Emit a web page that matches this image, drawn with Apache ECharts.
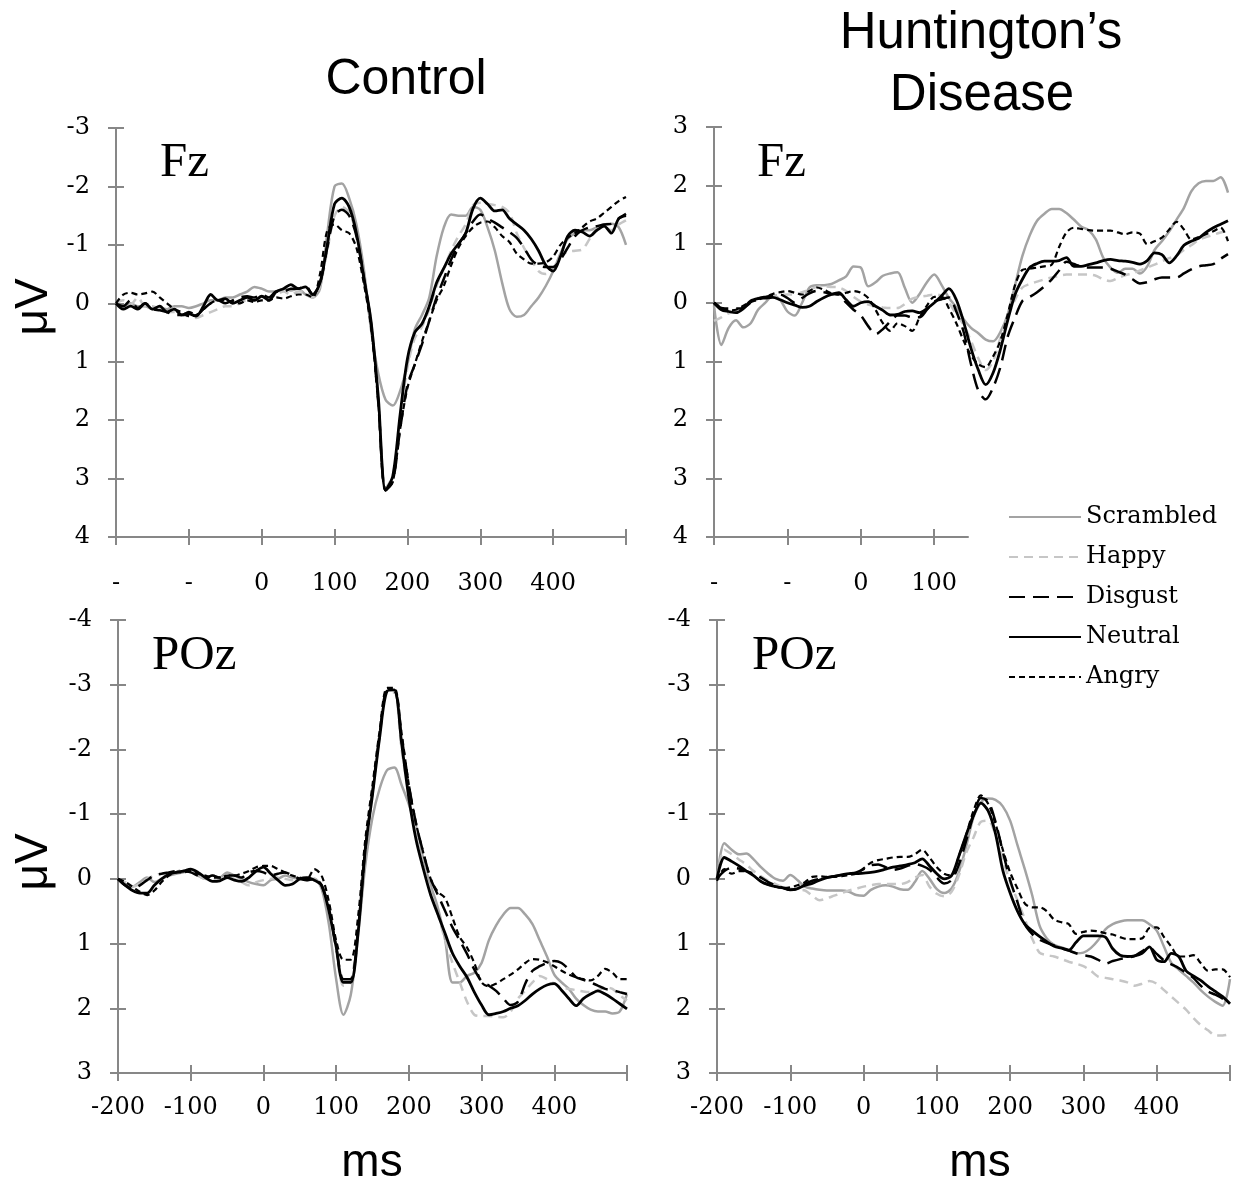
<!DOCTYPE html>
<html>
<head>
<meta charset="utf-8">
<script src="https://cdn.jsdelivr.net/npm/echarts@6/dist/echarts.min.js"></script>
<style>
html,body{margin:0;padding:0;background:#ffffff;}
#c{width:1238px;height:1182px;}
</style>
</head>
<body>
<div id="c"></div>
<script>
// ---------- DATA ----------
const timeMs = [
  -200,-190,-180,-170,-160,-150,-140,-130,-120,-110,
  -100,-90,-80,-70,-60,-50,-40,-30,-20,-10,
  0,10,20,30,40,50,60,70,80,90,
  100,110,120,130,140,150,160,170,180,190,
  200,210,220,230,240,250,260,270,280,290,
  300,310,320,330,340,350,360,370,380,390,
  400,410,420,430,440,450,460,470,480,490,
  500
];
const conditionNames = ['Scrambled','Happy','Disgust','Neutral','Angry'];
const xTickValues = [-200,-100,0,100,200,300,400,500];
const hdFzVisibleTicks = [-200,-100,0,100];

// Control, Fz (µV, negative plotted upward)
const ctlFzScrambled = [0,0.05,0,0.05,0.05,0.1,0.08,0.1,0.05,0.05, 0.08,0.05,0,-0.05,-0.05,-0.1,-0.1,-0.15,-0.2,-0.28, -0.25,-0.2,-0.2,-0.25,-0.22,-0.25,-0.15,-0.1,-0.25,-1.2, -2.0,-2.05,-1.8,-1.35,-0.6,0.45,1.2,1.65,1.75,1.5, 1.05,0.45,0.2,-0.1,-0.8,-1.3,-1.52,-1.5,-1.5,-1.65, -1.6,-1.3,-0.9,-0.35,0.1,0.23,0.2,0.05,-0.1,-0.3, -0.55,-0.85,-1.1,-1.2,-1.25,-1.25,-1.3,-1.35,-1.36,-1.3, -1.0];
const ctlFzHappy = [0,-0.05,0.02,-0.1,0.05,0.05,0.1,0.15,0.15,0.2, 0.22,0.25,0.2,0.15,0.1,0.05,0.05,0,-0.05,-0.05, -0.1,-0.1,-0.15,-0.2,-0.15,-0.2,-0.2,-0.1,-0.3,-0.9, -1.5,-1.65,-1.55,-1.2,-0.45,0.3,1.6,3.15,2.95,1.95, 1.1,0.6,0.4,0.1,-0.3,-0.6,-0.9,-1.15,-1.35,-1.68, -1.72,-1.7,-1.68,-1.65,-1.55,-1.2,-0.95,-0.75,-0.55,-0.5, -0.6,-0.8,-0.88,-0.9,-0.92,-1.1,-1.28,-1.3,-1.25,-1.35, -1.42];
const ctlFzDisgust = [0,0.05,-0.05,0.08,0,0.1,0.12,0.15,0.2,0.2, 0.15,0.2,0.1,0,-0.05,0,-0.05,-0.1,-0.12,-0.1, -0.15,-0.1,-0.2,-0.2,-0.25,-0.25,-0.3,-0.15,-0.35,-0.95, -1.5,-1.6,-1.5,-1.15,-0.45,0.35,1.7,3.2,3.05,2.15, 1.4,1.05,0.7,0.3,-0.1,-0.42,-0.75,-1.0,-1.2,-1.4, -1.52,-1.45,-1.38,-1.3,-1.22,-1.12,-0.95,-0.75,-0.65,-0.62, -0.62,-0.75,-0.95,-1.15,-1.25,-1.3,-1.32,-1.35,-1.36,-1.45, -1.53];
const ctlFzNeutral = [0,0.1,0.05,0.1,0,0.1,0.05,0.15,0.1,0.2, 0.18,0.22,0.05,-0.15,-0.05,-0.08,0,-0.05,-0.1,-0.05, -0.12,-0.05,-0.2,-0.25,-0.32,-0.25,-0.28,-0.15,-0.35,-1.0, -1.7,-1.8,-1.65,-1.2,-0.45,0.3,1.6,3.2,2.95,1.9, 0.95,0.5,0.35,0.05,-0.35,-0.6,-0.85,-1.02,-1.2,-1.62, -1.8,-1.7,-1.58,-1.6,-1.45,-1.35,-1.25,-1.1,-0.9,-0.65, -0.55,-0.8,-1.15,-1.25,-1.22,-1.15,-1.25,-1.32,-1.2,-1.45, -1.5];
const ctlFzAngry = [0,-0.15,-0.18,-0.15,-0.17,-0.2,-0.1,0,0.1,0.15, 0.22,0.2,0.1,0,-0.05,-0.05,-0.02,0,-0.05,-0.02, -0.05,-0.05,-0.1,-0.08,-0.12,-0.15,-0.15,-0.1,-0.5,-1.25, -1.35,-1.25,-1.2,-0.95,-0.35,0.4,1.7,3.2,3.05,2.15, 1.45,1.05,0.65,0.3,-0.05,-0.3,-0.65,-0.95,-1.15,-1.3, -1.38,-1.4,-1.3,-1.15,-1.05,-0.85,-0.75,-0.68,-0.68,-0.7, -0.8,-1.0,-1.12,-1.2,-1.3,-1.4,-1.45,-1.55,-1.65,-1.75, -1.82];

// Huntington's Disease, Fz
const hdFzScrambled = [0.05,0.72,0.43,0.3,0.42,0.35,0.12,0,-0.12,-0.05, 0.15,0.22,0,-0.26,-0.3,-0.3,-0.32,-0.38,-0.45,-0.62, -0.6,-0.28,-0.35,-0.46,-0.5,-0.52,-0.25,0,-0.15,-0.35, -0.48,-0.3,-0.08,0.08,0.28,0.43,0.52,0.63,0.66,0.5, 0.2,-0.3,-0.8,-1.15,-1.4,-1.52,-1.6,-1.6,-1.53,-1.42, -1.3,-1.24,-1.08,-0.77,-0.6,-0.51,-0.58,-0.58,-0.5,-0.62, -0.9,-1.05,-1.22,-1.42,-1.62,-1.9,-2.04,-2.08,-2.08,-2.14, -1.88];
const hdFzHappy = [0.31,0.25,0.18,0.14,0.08,0,-0.08,-0.1,-0.12,-0.13, -0.14,-0.14,-0.18,-0.22,-0.27,-0.28,-0.27,-0.26,-0.2,-0.1, -0.02,0.03,0.06,0.08,0.09,0.09,0.02,-0.07,-0.1,-0.12, -0.14,-0.12,0,0.2,0.38,0.65,0.95,1.15,1.0,0.6, 0.25,-0.05,-0.26,-0.32,-0.36,-0.4,-0.43,-0.46,-0.48,-0.48, -0.48,-0.48,-0.46,-0.4,-0.37,-0.42,-0.47,-0.5,-0.55,-0.6, -0.65,-0.71,-0.76,-0.81,-0.9,-0.98,-1.07,-1.12,-1.16,-1.2, -1.23];
const hdFzDisgust = [0,0.09,0.1,0.1,0.09,0,-0.07,-0.1,-0.12,-0.14, -0.08,0,-0.08,-0.16,-0.2,-0.18,-0.15,-0.14,0,0.12, 0.22,0.4,0.54,0.45,0.32,0.22,0.22,0.25,0.25,0.12, -0.02,-0.06,-0.09,0.15,0.5,1.05,1.5,1.65,1.45,1.1, 0.58,0.25,-0.03,-0.1,-0.18,-0.28,-0.4,-0.55,-0.7,-0.66, -0.62,-0.6,-0.6,-0.6,-0.58,-0.53,-0.48,-0.4,-0.33,-0.35, -0.4,-0.43,-0.43,-0.43,-0.5,-0.57,-0.62,-0.64,-0.66,-0.75, -0.83];
const hdFzNeutral = [0,0.12,0.15,0.17,0.1,-0.03,-0.07,-0.08,-0.09,-0.05, 0,0.04,0.08,0.06,-0.02,-0.09,-0.14,-0.17,-0.05,0.06, 0,-0.02,0.06,0.13,0.21,0.2,0.15,0.14,0.17,0.1, 0,-0.12,-0.24,-0.05,0.33,0.78,1.15,1.4,1.2,0.8, 0.3,-0.14,-0.4,-0.6,-0.67,-0.71,-0.71,-0.72,-0.77,-0.62, -0.62,-0.65,-0.68,-0.72,-0.74,-0.72,-0.71,-0.69,-0.66,-0.72, -0.85,-0.82,-0.68,-0.8,-0.98,-1.05,-1.1,-1.2,-1.28,-1.34, -1.4];
const hdFzAngry = [0,0.08,0.13,0.12,0.05,-0.01,-0.05,-0.1,-0.15,-0.18, -0.2,-0.17,-0.14,-0.2,-0.26,-0.22,-0.16,-0.14,-0.17,-0.2, -0.17,-0.08,0.12,0.35,0.48,0.35,0.4,0.48,0.25,0.05, -0.1,-0.1,0.1,0.35,0.65,0.9,1.05,1.1,0.92,0.65, 0.2,-0.3,-0.56,-0.58,-0.6,-0.62,-0.65,-0.95,-1.2,-1.28, -1.26,-1.24,-1.23,-1.23,-1.23,-1.2,-1.17,-1.2,-1.18,-1.0, -1.05,-1.11,-1.25,-1.38,-1.25,-1.08,-1.12,-1.17,-1.22,-1.28, -1.05];

// Control, POz
const ctlPozScrambled = [0,0.08,0.12,0.05,-0.02,0.05,0,-0.05,-0.08,-0.1, -0.12,-0.05,0,-0.05,-0.02,-0.1,-0.05,0,0.05,0.08, 0.1,0.02,0,-0.05,-0.02,0,0.02,0,0.15,0.7, 1.55,2.1,1.8,0.9,-0.2,-0.95,-1.4,-1.68,-1.72,-1.45, -1.15,-0.8,-0.3,0.1,0.45,0.95,1.6,1.6,1.5,1.45, 1.3,0.95,0.72,0.55,0.45,0.45,0.55,0.7,0.95,1.2, 1.48,1.6,1.7,1.85,1.95,2.02,2.05,2.05,2.08,2.05, 1.78];
const ctlPozHappy = [0,0.05,0.12,0.08,0,-0.05,-0.08,-0.05,-0.1,-0.15, -0.12,-0.05,0,0.02,0,-0.05,0,0.05,0.1,0.05, 0.02,0,-0.02,0,0.02,0,-0.02,0,0.1,0.5, 1.1,1.65,1.6,0.8,-0.45,-1.35,-2.2,-2.88,-2.88,-2.0, -1.3,-0.7,-0.2,0.2,0.55,0.95,1.3,1.6,1.9,2.1, 2.12,2.12,2.13,2.14,2.05,1.85,1.73,1.6,1.5,1.55, 1.62,1.68,1.7,1.72,1.74,1.75,1.72,1.68,1.7,1.8, 1.88];
const ctlPozDisgust = [0,0.1,0.15,0.1,0.02,-0.05,-0.08,-0.1,-0.12,-0.12, -0.1,-0.05,-0.02,-0.05,-0.02,-0.05,-0.05,-0.02,-0.1,-0.12, -0.1,-0.05,-0.08,-0.1,-0.05,0,0.02,0,0.1,0.45, 1.05,1.55,1.55,0.8,-0.45,-1.35,-2.25,-2.9,-2.9,-2.2, -1.45,-0.85,-0.4,0,0.25,0.5,0.75,0.95,1.16,1.4, 1.58,1.65,1.73,1.85,1.95,1.9,1.62,1.42,1.35,1.3, 1.27,1.3,1.4,1.52,1.56,1.6,1.65,1.7,1.72,1.75, 1.78];
const ctlPozNeutral = [0,0.1,0.18,0.22,0.22,0.1,0,-0.07,-0.1,-0.12, -0.15,-0.1,-0.02,0.04,0.03,-0.02,0.02,0.04,-0.02,-0.12, -0.18,-0.08,0.02,0.1,0.08,0,-0.02,0.02,0.1,0.49, 1.05,1.6,1.6,0.85,-0.45,-1.3,-2.2,-2.9,-2.92,-2.1, -1.25,-0.6,-0.15,0.25,0.55,0.85,1.15,1.35,1.52,1.75, 1.95,2.1,2.08,2.05,2.0,1.96,1.88,1.78,1.7,1.64, 1.62,1.72,1.85,1.96,1.85,1.78,1.73,1.78,1.85,1.93, 2.01];
const ctlPozAngry = [0,0.05,0.12,0.2,0.25,0.18,0.05,-0.05,-0.1,-0.1, -0.12,-0.08,-0.05,-0.02,-0.02,-0.05,-0.05,-0.08,-0.12,-0.18, -0.2,-0.2,-0.15,-0.1,-0.05,-0.02,0,-0.15,-0.05,0.35, 0.95,1.25,1.25,0.6,-0.6,-1.45,-2.3,-2.95,-2.95,-2.25, -1.45,-0.85,-0.4,0,0.2,0.3,0.6,0.9,1.06,1.3, 1.6,1.66,1.62,1.55,1.48,1.4,1.3,1.24,1.25,1.29, 1.35,1.42,1.48,1.52,1.55,1.57,1.5,1.39,1.45,1.55, 1.55];

// Huntington's Disease, POz
const hdPozScrambled = [0,-0.55,-0.45,-0.38,-0.39,-0.3,-0.18,-0.08,0,0.03, -0.06,0.02,0.12,0.15,0.17,0.18,0.18,0.18,0.2,0.25, 0.26,0.17,0.12,0.1,0.12,0.16,0.17,0.05,-0.12,0, 0.16,0.22,0.15,-0.1,-0.5,-0.95,-1.18,-1.24,-1.22,-1.12, -0.9,-0.52,-0.15,0.25,0.72,0.92,1.02,1.06,1.1,1.15, 1.14,1.07,0.95,0.78,0.7,0.66,0.64,0.64,0.64,0.7, 0.8,1.05,1.3,1.4,1.5,1.6,1.72,1.82,1.9,1.96, 1.55];
const hdPozHappy = [0,-0.45,-0.38,-0.3,-0.22,-0.12,-0.04,0.03,0.08,0.13, 0.15,0.17,0.18,0.26,0.33,0.3,0.26,0.22,0.18,0.15, 0.12,0.1,0.08,0.08,0.08,0.08,0.05,-0.02,-0.06,0.12, 0.23,0.27,0.2,-0.05,-0.4,-0.64,-0.88,-0.9,-0.68,-0.3, 0.05,0.33,0.62,0.92,1.14,1.18,1.2,1.24,1.28,1.31, 1.35,1.42,1.51,1.53,1.55,1.57,1.6,1.65,1.62,1.58, 1.62,1.72,1.82,1.92,2.02,2.15,2.26,2.34,2.42,2.42, 2.4];
const hdPozDisgust = [0,-0.12,-0.17,-0.16,-0.12,-0.08,-0.02,0.05,0.1,0.14, 0.17,0.15,0.08,0.03,0,-0.02,-0.04,-0.06,-0.08,-0.1, -0.15,-0.21,-0.22,-0.18,-0.14,-0.16,-0.2,-0.23,-0.2,-0.14, -0.02,0.07,0.02,-0.22,-0.59,-0.98,-1.25,-1.2,-0.88,-0.42, 0.02,0.36,0.7,0.85,0.94,0.99,1.03,1.07,1.11,1.15, 1.18,1.2,1.25,1.31,1.27,1.24,1.22,1.19,1.12,1.06, 1.16,1.26,1.32,1.38,1.45,1.53,1.65,1.74,1.79,1.85, 1.93];
const hdPozNeutral = [0,-0.33,-0.27,-0.2,-0.12,-0.05,0.04,0.09,0.12,0.14, 0.17,0.15,0.1,0.07,0.02,-0.02,-0.04,-0.06,-0.08,-0.08, -0.09,-0.1,-0.12,-0.15,-0.18,-0.2,-0.22,-0.25,-0.31,-0.2, -0.08,0,-0.05,-0.35,-0.68,-0.98,-1.17,-1.05,-0.7,-0.13, 0.22,0.5,0.7,0.8,0.89,0.97,1.04,1.07,1.1,0.98, 0.88,0.88,0.88,0.9,1.08,1.18,1.2,1.19,1.15,1.05, 1.25,1.28,1.15,1.2,1.42,1.5,1.57,1.66,1.74,1.82, 1.93];
const hdPozAngry = [0.03,-0.15,-0.08,-0.12,-0.12,-0.05,0.04,0.09,0.12,0.14, 0.13,0.1,0.05,-0.03,-0.04,-0.03,-0.03,-0.04,-0.06,-0.08, -0.16,-0.25,-0.29,-0.31,-0.33,-0.34,-0.34,-0.38,-0.45,-0.33, -0.18,-0.08,-0.05,-0.35,-0.68,-1.05,-1.29,-1.16,-0.85,-0.45, -0.1,0.15,0.38,0.44,0.44,0.5,0.63,0.67,0.7,0.85, 0.82,0.8,0.81,0.84,0.86,0.9,0.93,0.93,0.92,0.76, 0.75,0.9,1.05,1.2,1.2,1.18,1.3,1.42,1.4,1.4, 1.52];

// ---------- STYLE / LAYOUT ----------
const AX = '#878787';
const SERIF = 'DejaVu Serif';
const lineStyles = {
  Scrambled: {color:'#a3a3a3', width:2.5, type:'solid'},
  Happy:     {color:'#c6c6c6', width:2.5, type:[9,6]},
  Disgust:   {color:'#000000', width:2.5, type:[16,8]},
  Neutral:   {color:'#000000', width:2.8, type:'solid'},
  Angry:     {color:'#000000', width:2.2, type:[6,4]}
};
const drawOrder = ['Scrambled','Happy','Disgust','Angry','Neutral'];

const panels = [
  {data:{Scrambled:ctlFzScrambled,Happy:ctlFzHappy,Disgust:ctlFzDisgust,Neutral:ctlFzNeutral,Angry:ctlFzAngry}},
  {data:{Scrambled:hdFzScrambled,Happy:hdFzHappy,Disgust:hdFzDisgust,Neutral:hdFzNeutral,Angry:hdFzAngry}},
  {data:{Scrambled:ctlPozScrambled,Happy:ctlPozHappy,Disgust:ctlPozDisgust,Neutral:ctlPozNeutral,Angry:ctlPozAngry}},
  {data:{Scrambled:hdPozScrambled,Happy:hdPozHappy,Disgust:hdPozDisgust,Neutral:hdPozNeutral,Angry:hdPozAngry}}
];

const grids = [
  {left:116, top:128, width:510, height:409},
  {left:714, top:127, width:514, height:410},
  {left:118, top:620, width:509, height:453},
  {left:717, top:620, width:513, height:453},
  {left:714, top:127, width:254, height:410}   // visible (short) x axis of HD Fz
];

const tickLabelStyle = {fontFamily:SERIF, fontSize:24, color:'#000'};

function xAxisDef(gridIndex, opts) {
  const o = Object.assign({visible:true, inside:false, labels:true, fz:false, min:-200, max:500, custom:null}, opts);
  const ax = {
    type:'value', gridIndex, position:'bottom', min:o.min, max:o.max, interval:100,
    show:o.visible,
    axisLine:{show:!o.inside, onZero:false, lineStyle:{color:AX, width:2}},
    axisTick:{show:true, inside:o.inside, length:8, lineStyle:{color:AX, width:2}},
    axisLabel:{show:o.labels && !o.inside, margin:o.fz ? 35 : 23, ...tickLabelStyle,
      formatter:(v)=> v === 500 ? '' : (o.fz && v < 0 ? '-' : String(v))},
    splitLine:{show:false}
  };
  if (o.custom) { ax.axisTick.customValues = o.custom; ax.axisLabel.customValues = o.custom; }
  return ax;
}
function yAxisDef(gridIndex, yMin, yMax, opts) {
  const o = Object.assign({visible:true, inside:false, abs:false}, opts);
  return {
    type:'value', gridIndex, position:'left', min:yMin, max:yMax, interval:1, inverse:true,
    show:o.visible,
    axisLine:{show:!o.inside, onZero:false, lineStyle:{color:AX, width:2}},
    axisTick:{show:true, inside:o.inside, length:8, lineStyle:{color:AX, width:2}},
    axisLabel:{show:!o.inside, margin:26, ...tickLabelStyle,
      formatter:(v)=> o.abs ? String(Math.abs(v)) : String(v)},
    splitLine:{show:false}
  };
}

const xAxes = [
  xAxisDef(0, {fz:true}),
  xAxisDef(1, {visible:false}),
  xAxisDef(2, {}),
  xAxisDef(3, {}),
  xAxisDef(0, {inside:true}),
  xAxisDef(2, {inside:true}),
  xAxisDef(3, {inside:true}),
  xAxisDef(4, {fz:true, max:146, custom:hdFzVisibleTicks}),
  xAxisDef(4, {inside:true, max:146, custom:hdFzVisibleTicks})
];
const yAxes = [
  yAxisDef(0, -3, 4, {}),
  yAxisDef(1, -3, 4, {abs:true}),
  yAxisDef(2, -4, 3, {}),
  yAxisDef(3, -4, 3, {}),
  yAxisDef(0, -3, 4, {inside:true}),
  yAxisDef(1, -3, 4, {inside:true}),
  yAxisDef(2, -4, 3, {inside:true}),
  yAxisDef(3, -4, 3, {inside:true}),
  {type:'value', gridIndex:4, show:false, min:0, max:1}
];

const series = [];
panels.forEach((p, pi) => {
  drawOrder.forEach((name, k) => {
    const vals = p.data[name];
    series.push({
      type:'line', name, xAxisIndex:pi, yAxisIndex:pi,
      data: timeMs.map((t, i) => [t, vals[i]]),
      symbol:'none', showSymbol:false, smooth:0.3, silent:true,
      lineStyle:{...lineStyles[name]},
      itemStyle:{color:lineStyles[name].color},
      z: 2 + k
    });
  });
});
series.push({type:'line', xAxisIndex:7, yAxisIndex:8, data:[], silent:true});

const sans = '"Liberation Sans", Arial, sans-serif';
const serifBig = '"Liberation Serif", serif';
function txt(text, x, y, font, align, rot) {
  return {type:'text', x, y, rotation: rot || 0, silent:true,
    style:{text, font, fill:'#000', textAlign:align || 'center', textVerticalAlign:'middle'}};
}

const option = {
  animation:false,
  backgroundColor:'#ffffff',
  grid: grids,
  xAxis: xAxes,
  yAxis: yAxes,
  series,
  legend:{
    data: conditionNames, orient:'vertical', left:1003, top:499,
    itemWidth:72, itemHeight:26, itemGap:14, selectedMode:false,
    itemStyle:{opacity:0, borderWidth:0},
    textStyle:{fontFamily:SERIF, fontSize:24, color:'#000', lineHeight:26}
  },
  graphic: [
    txt('Control', 406, 80, '50px ' + sans),
    txt('Huntington\u2019s', 981, 34, '51px ' + sans),
    txt('Disease', 982, 96, '51px ' + sans),
    txt('Fz', 160, 163, '49px ' + serifBig, 'left'),
    txt('Fz', 757, 163, '49px ' + serifBig, 'left'),
    txt('POz', 152, 656, '49px ' + serifBig, 'left'),
    txt('POz', 752, 656, '49px ' + serifBig, 'left'),
    txt('\u03bcV', 34, 307, '46px ' + sans, 'center', Math.PI/2),
    txt('\u03bcV', 34, 862, '46px ' + sans, 'center', Math.PI/2),
    txt('ms', 372, 1163, '46px ' + sans),
    txt('ms', 980, 1163, '46px ' + sans)
  ]
};

const chart = echarts.init(document.getElementById('c'), null, {renderer:'canvas', width:1238, height:1182});
chart.setOption(option);
</script>
</body>
</html>
